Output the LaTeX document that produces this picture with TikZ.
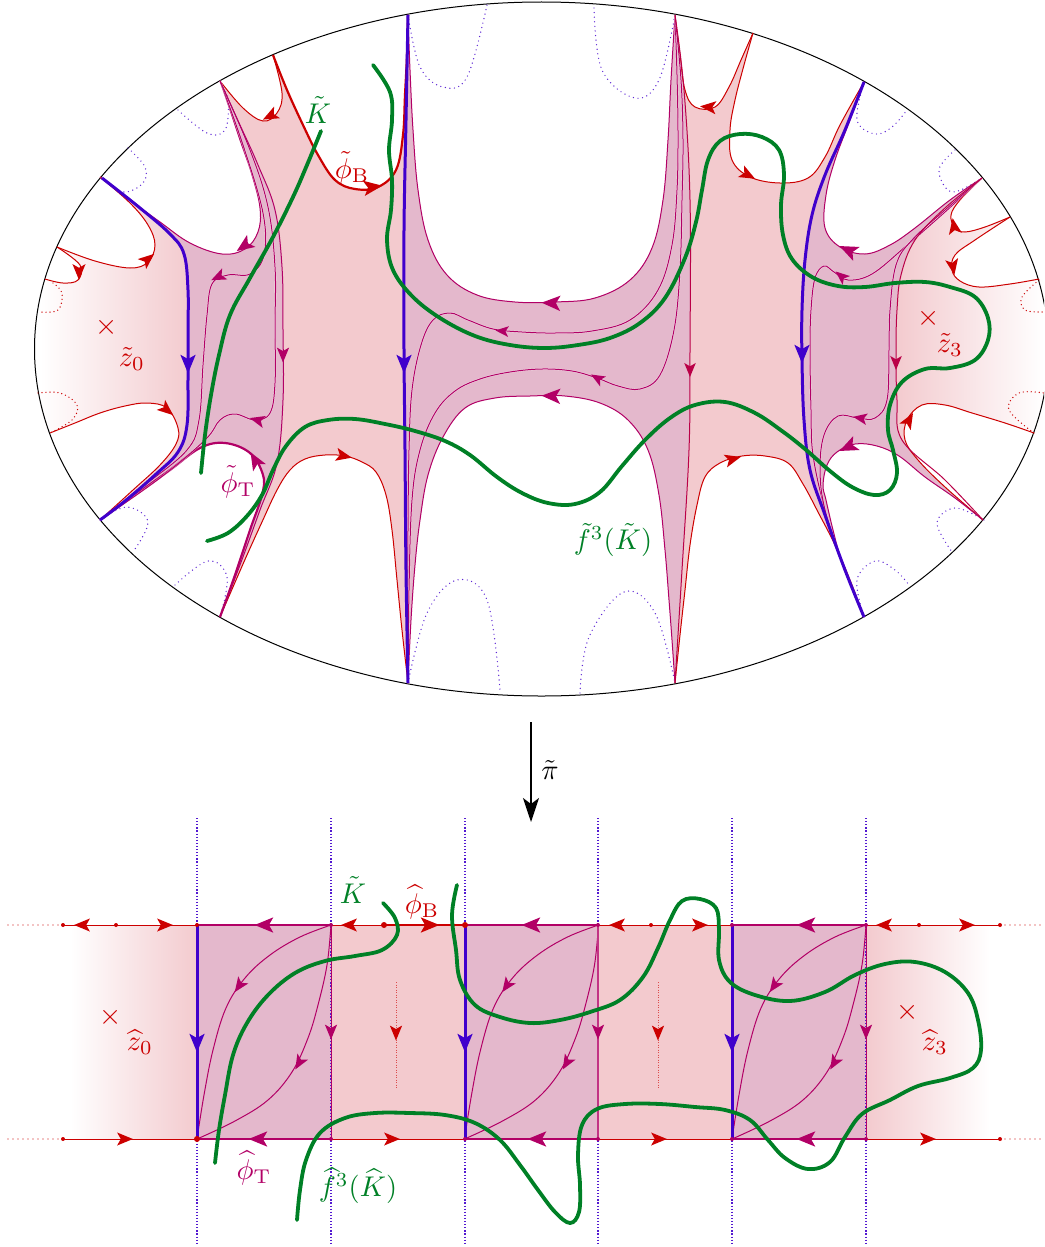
\documentclass[tikz,border=0pt]{standalone}
\usetikzlibrary{arrows.meta}
\definecolor{cred}{rgb}{0.8,0,0}
\definecolor{cmag}{rgb}{0.7,0,0.4}
\definecolor{cblue}{rgb}{0.25,0,0.8}
\definecolor{cgreen}{rgb}{0,0.5,0.15}
\definecolor{fpink}{HTML}{F3CACE}
\definecolor{fmag}{HTML}{E4B8CC}
\newcommand\cv[1]{plot[smooth,tension=.62] coordinates {#1}}
\newcommand\ah[5][1]{\fill[#5,shift={(#2,#3)},rotate=#4,scale=#1*1.1] (8.5,0)--(-8.5,7)--(-4.5,0)--(-8.5,-7)--cycle;}
% top boundary segments
\def\SA{\cv{(45,279)(63,283)(78,280)(80,265)(57,247)}}
\def\SB{\cv{(57,247)(95,261)(130,268)(148,262)(155,245)(148,225)(130,203)(100,177)}}
\def\SC{\cv{(100,177)(130,200)(160,222)(190,243)(222,254)(245,249)(258,232)(260,208)(252,175)(240,140)(230,110)(220,81)}}
\def\SD{\cv{(220,81)(243,108)(263,121)(277,113)(282,93)(273,55)}}
\def\SE{\cv{(273,55)(287,90)(303,125)(318,155)(335,180)(355,189)(378,187)(396,170)(403,135)(405,95)(407,55)(408,15)}}
\def\SF{\cv{(408,15)(410,70)(413,130)(418,190)(428,240)(447,275)(477,295)(515,302)(555,302)(595,298)(630,280)(652,248)(663,200)(668,140)(671,80)(675,15)}}
\def\SG{\cv{(675,15)(680,55)(685,90)(695,107)(715,107)(729,87)(741,60)(753,33)}}
\def\SH{\cv{(753,33)(744,65)(735,100)(730,130)(732,160)(750,177)(780,183)(808,178)(825,157)(840,125)(864,82)}}
\def\SI{\cv{(864,82)(850,120)(835,160)(826,195)(825,228)(840,247)(865,254)(890,245)(915,228)(950,200)(982,178)}}
\def\SJ{\cv{(982,178)(960,200)(951,215)(955,228)(965,232)(985,227)(1010,217)}}
\def\SK{\cv{(1010,217)(975,240)(955,255)(952,270)(960,281)(979,287)(1010,284)(1039,279)}}
\def\SL{\cv{(1034,433)(1005,423)(972,413)(945,405)(922,405)(907,420)(905,440)(918,460)(945,487)(983,520)}}
\def\SM{\cv{(983,520)(955,498)(925,477)(899,456)(877,446)(855,444)(837,452)(827,465)(823,485)(826,500)(833,530)(842,563)(853,590)(864,617)}}
\def\SN{\cv{(864,617)(850,580)(835,545)(818,512)(803,484)(788,463)(765,456)(742,456)(720,463)(705,477)(697,505)(690,545)(685,590)(680,635)(675,683)}}
\def\SO{\cv{(675,683)(672,640)(669,600)(665,550)(659,495)(648,450)(628,420)(600,403)(565,396)(530,396)(495,398)(465,408)(443,437)(428,475)(420,520)(415,565)(411,620)(408,683)}}
\def\SP{\cv{(408,683)(402,630)(397,580)(392,530)(386,495)(376,472)(362,462)(345,456)(325,455)(305,459)(290,470)(277,490)(262,522)(247,555)(233,587)(220,617)}}
\def\SQ{\cv{(220,617)(235,575)(250,530)(262,495)(263,475)(250,453)(225,443)(200,448)(170,470)(135,495)(100,520)}}
\def\SR{\cv{(100,520)(133,490)(160,465)(176,444)(178,428)(167,408)(147,403)(125,406)(100,413)(75,423)(50,433)}}
\def\BL{\cv{(102,178)(140,208)(170,234)(184,254)(188,290)(188,330)(188,380)(187,425)(178,452)(155,475)(125,501)(100,520)}}
\def\BM{\cv{(408,15)(406,120)(404,230)(404,350)(405,450)(406,570)(408,683)}}
\def\BR{\cv{(864,82)(845,130)(825,175)(812,215)(805,260)(802,310)(802,360)(804,420)(810,470)(825,515)(845,570)(864,617)}}
\def\EL{\cv{(220,617)(240,565)(260,510)(277,463)(283,400)(283,330)(282,267)(275,210)(258,165)(240,125)(220,81)}}
\def\EM{\cv{(675,683)(682,570)(689,450)(690,350)(690,200)(684,90)(675,15)}}
\def\ER{\cv{(983,520)(945,480)(902,440)(897,400)(896,350)(897,310)(901,275)(915,240)(945,208)(982,178)}}
\edef\regionpath{\SA -- \SB -- \SC -- \SD -- \SE -- \SF -- \SG -- \SH -- \SI -- \SJ -- \SK -- (1060,279) -- (1060,433) -- \SL -- \SM -- \SN -- \SO -- \SP -- \SQ -- \SR -- (25,433) -- (25,279) -- cycle}
\edef\stripL{\BL -- \EL -- cycle}
\edef\stripM{\BM -- \EM -- cycle}
\edef\stripR{\BR -- \ER -- cycle}
\tikzset{
  thinr/.style={cred,line width=1pt},
  thinm/.style={cmag,line width=1pt},
  boldr/.style={cred,line width=2.2pt},
  boldm/.style={cmag,line width=2.2pt},
  bluel/.style={cblue,line width=3pt},
  greenl/.style={cgreen,line width=3.8pt,line cap=round},
  dotb/.style={cblue!85,line width=1.4pt,line cap=round,dash pattern=on 0pt off 4.6pt},
  dotr/.style={cred,line width=1.4pt,line cap=round,dash pattern=on 0pt off 4pt},
  dotv/.style={cblue!90,line width=1.2pt,dash pattern=on 1.2pt off 1.9pt},
  lab/.style={transform shape,scale=2.85,inner sep=0pt},
  ptr/.style={circle,fill=cred,inner sep=0pt,minimum size=4pt},
  ptm/.style={circle,fill=cmag,inner sep=0pt,minimum size=4pt}
}
\begin{document}
\begin{tikzpicture}[x=1pt,y=-1pt]
\useasboundingbox (0,0) rectangle (1044,1247);
\clip (0,0) rectangle (1044,1247);
% ---------- top: fills
\begin{scope}
\clip \regionpath;
\shade[left color=white,right color=fpink] (40,0) rectangle (190,700);
\fill[fpink] (189,0) rectangle (896,700);
\shade[left color=fpink,right color=white] (895,0) rectangle (1044,700);
\fill[fmag] \stripL;
\fill[fmag] \stripM;
\fill[fmag] \stripR;
\end{scope}
\draw[black,line width=1pt] (541.5,349) ellipse [x radius=507pt,y radius=347pt];
% dotted arcs
\foreach \a in {{(128,148)(145,167)(143,183)(123,192)(101,178)},
 {(178,110)(207,133)(225,130)(228,100)(220,82)},
 {(408,15)(420,67)(443,87)(467,77)(487,5)},
 {(594,8)(602,70)(635,98)(659,80)(675,15)},
 {(864,82)(857,120)(875,134)(892,127)(907,110)},
 {(955,150)(939,170)(952,192)(982,178)},
 {(100,520)(127,507)(148,522)(133,552)},
 {(175,585)(208,561)(227,577)(220,617)},
 {(408,683)(427,613)(457,580)(487,600)(500,690)},
 {(580,693)(589,637)(624,592)(655,613)(675,683)},
 {(864,617)(857,580)(875,561)(895,570)(909,585)},
 {(984,520)(955,508)(937,523)(952,552)}}
 {\edef\tmpc{\cv{\a}}\draw[dotb] \tmpc;}
\foreach \a in {{(53,283)(62,293)(58,310)(40,312)},
 {(38,393)(60,393)(77,405)(72,420)(50,433)},
 {(1039,280)(1022,297)(1025,310)(1044,312)},
 {(1034,433)(1009,410)(1019,393)(1044,393)}}
 {\edef\tmpc{\cv{\a}}\draw[dotr] \tmpc;}
% thin boundary curves
\draw[thinr] \SA; \draw[thinr] \SB; \draw[thinm] \SC; \draw[thinr] \SD;
\draw[boldr] \SE; \draw[thinm] \SF; \draw[thinr] \SG; \draw[thinr] \SH;
\draw[thinm] \SI; \draw[thinr] \SJ; \draw[thinr] \SK; \draw[thinr] \SL;
\draw[thinm] \SM; \draw[thinr] \SN; \draw[thinm] \SO; \draw[thinr] \SP;
\draw[boldm] \SQ; \draw[thinr] \SR;
% interior curves
\foreach \a in {{(220,81)(243,145)(263,213)(264,255)(250,274)(228,275)(212,284)(207,315)(203,365)(199,420)(187,450)(145,485)(100,520)},
 {(220,81)(250,150)(268,207)(275,267)(275,325)(275,383)(270,413)(255,420)(235,414)(220,420)(205,440)(160,478)(100,520)},
 {(675,15)(677,75)(678,135)(677,190)(672,245)(658,290)(630,320)(592,331)(555,333)(522,332)(493,329)(468,320)(450,313)(433,320)(421,345)(412,390)(409,450)(408,530)(408,610)(408,683)},
 {(675,15)(681,80)(683,140)(682,200)(680,270)(674,330)(660,375)(640,389)(618,386)(597,378)(572,371)(542,369)(510,372)(480,379)(455,391)(435,413)(420,450)(412,500)(409,590)(408,683)},
 {(982,178)(945,212)(905,247)(872,274)(848,280)(834,272)(824,266)(815,278)(811,310)(810,350)(811,410)(813,455)(825,510)(843,565)(864,617)},
 {(982,178)(945,210)(912,240)(896,265)(890,310)(889,350)(887,400)(875,418)(858,418)(838,416)(824,435)(820,470)(825,510)(843,565)(864,617)}}
 {\edef\tmpc{\cv{\a}}\draw[thinm,preaction={draw=white,line width=1.7pt,opacity=.6}] \tmpc;}
\draw[thinm] \EL; \draw[thinm,cmag!70!cred] \EM; \draw[thinm,cmag!70!cred] \ER;
% blue
\draw[bluel] \BL; \draw[bluel] \BM; \draw[bluel] \BR;
% arrowheads top
\ah[.85]{79}{272}{-90}{cred}
\ah[.85]{148}{259}{40}{cred}
\ah[.85]{270}{116}{207}{cred}
\ah[1]{373}{187}{8}{cred}
\ah[.85]{708}{107}{175}{cred}
\ah[.85]{748}{175}{-28}{cred}
\ah[.85]{954}{226}{100}{cred}
\ah[.85]{953}{267}{-80}{cred}
\ah[.85]{167}{410}{-40}{cred}
\ah[.85]{344}{456}{-12}{cred}
\ah[.85]{733}{459}{15}{cred}
\ah[.85]{909}{420}{60}{cred}
\ah[.95]{244}{246}{215}{cmag}
\ah[.8]{218}{277}{205}{cmag}
\ah[.8]{283}{355}{-90}{cmag}
\ah[.95]{255}{460}{120}{cmag}
\ah[.8]{257}{420}{165}{cmag}
\ah[1]{551}{303}{178}{cmag}
\ah[.7]{502}{331}{175}{cmag}
\ah[.75]{597}{378}{150}{cmag}
\ah[1]{551}{396}{178}{cmag}
\ah[.75]{690}{370}{-90}{cmag!70!cred}
\ah[1]{848}{250}{155}{cmag}
\ah[.75]{841}{276}{140}{cmag}
\ah[.75]{896}{363}{-90}{cmag!70!cred}
\ah[.75]{860}{418}{170}{cmag}
\ah[1]{848}{447}{205}{cmag}
\ah[1]{188}{364}{-90}{cblue}
\ah[1]{404}{364}{-90}{cblue}
\ah[1]{802}{354}{-90}{cblue}
% green top
\draw[greenl] \cv{(321,131)(307,165)(293,197)(273,237)(250,278)(230,315)(219,355)(211,395)(205,435)(201,473)};
\draw[greenl] \cv{(207,541)(228,533)(247,516)(262,495)(273,470)(286,446)(305,427)(328,420)(355,419)(385,424)(415,431)(445,441)(470,455)(497,477)(522,493)(548,503)(575,504)(600,492)(622,466)(645,440)(670,418)(695,405)(725,402)(755,413)(782,431)(805,449)(830,471)(852,487)(874,495)(890,490)(897,473)(893,450)(888,430)(890,405)(902,382)(925,369)(950,368)(975,360)(988,340)(988,318)(975,297)(950,287)(925,282)(895,283)(865,287)(838,286)(812,277)(792,259)(783,235)(781,205)(784,175)(779,150)(762,137)(740,134)(720,141)(708,160)(702,190)(696,222)(685,258)(665,298)(640,323)(610,338)(578,345)(545,348)(510,345)(475,336)(440,318)(412,296)(393,270)(387,240)(391,210)(392,180)(389,150)(392,120)(390,92)(373,65)};
% labels top
\node[lab,text=cgreen] (lk) at (318,110) {$\tilde K$};
\node[lab,text=cred] (lpb) at (352,168) {$\tilde\phi_{\mathrm{B}}$};
\node[lab,text=cred] (lx0) at (107,327) {$\times$};
\node[lab,text=cred] (lz0) at (132,359) {$\tilde z_0$};
\node[lab,text=cred] (lx3) at (929,318) {$\times$};
\node[lab,text=cred] (lz3) at (950,345) {$\tilde z_3$};
\node[lab,text=cmag] (lpt) at (238,482) {$\tilde\phi_{\mathrm{T}}$};
\node[lab,text=cgreen] (lfk) at (613,540) {$\tilde f^3(\tilde K)$};
% projection arrow
\coordinate (pa) at (531,722); \coordinate (pb) at (531,822);
\draw[black,line width=1.6pt,-{Stealth[length=24pt,width=16pt,inset=6pt]}] (pa) -- (pb);
\node[lab] (lpi) at (550,770) {$\tilde\pi$};
% ---------- bottom: fills
\shade[left color=white,right color=fpink] (70,925) rectangle (197.5,1139);
\fill[fpink] (197,925) rectangle (866,1139);
\shade[left color=fpink,right color=white] (865.5,925) rectangle (990,1139);
\fill[fmag] (197,925) rectangle (331,1139);
\fill[fmag] (465,925) rectangle (598,1139);
\fill[fmag] (732,925) rectangle (866,1139);
% vertical dotted
\foreach \x in {197,331,465,598,732,866} {\draw[dotv] (\x,818) -- (\x,1245);}
% horizontals
\draw[dotr,dash pattern=on 0pt off 5pt] (63,925) -- (8,925);
\draw[dotr,dash pattern=on 0pt off 5pt] (63,1139) -- (8,1139);
\draw[dotr,dash pattern=on 0pt off 5pt] (1000,925) -- (1044,925);
\draw[dotr,dash pattern=on 0pt off 5pt] (1000,1139) -- (1044,1139);
\draw[thinr] (63,925) -- (197,925);
\draw[thinr] (63,1139) -- (197,1139);
\draw[thinr] (331,925) -- (465,925);
\draw[boldr] (384,925) -- (465,925);
\draw[thinr] (598,925) -- (732,925);
\draw[thinr] (866,925) -- (1000,925);
\draw[thinr] (331,1139) -- (465,1139);
\draw[thinr] (598,1139) -- (732,1139);
\draw[thinr] (866,1139) -- (1000,1139);
\draw[cmag,line width=1.2pt] (197,925) -- (331,925) (465,925) -- (598,925) (732,925) -- (866,925);
\draw[cmag,line width=1.2pt] (465,1139) -- (598,1139) (732,1139) -- (866,1139);
\draw[boldm] (197,1139) -- (331,1139);
% interior of strips
\foreach \dx in {0,267.5,535} {
 \begin{scope}[xshift=\dx pt]
 \draw[thinm] \cv{(331,925)(300,937)(270,955)(245,978)(226,1008)(213,1050)(204,1095)(197,1139)};
 \draw[thinm] \cv{(331,925)(327,965)(318,1005)(308,1038)(292,1072)(268,1100)(235,1121)(197,1139)};
 \ah[.8]{239}{986}{235}{cmag}
 \ah[.8]{299}{1063}{240}{cmag}
 \end{scope}
}
\draw[thinm] (331,925) -- (331,1139);
\draw[thinm,cmag!80,line width=1.5pt] (598,925) -- (598,1139);
\draw[thinm] (866,925) -- (866,1139);
\draw[bluel] (197,925) -- (197,1139);
\draw[bluel] (465,925) -- (465,1139);
\draw[bluel] (732,925) -- (732,1139);
% red dotted in the pink bands
\draw[dotr,line width=.9pt,line cap=butt,dash pattern=on .9pt off 1.6pt,cred!70] (396,982) -- (396,1089);
\draw[dotr,line width=.9pt,line cap=butt,dash pattern=on .9pt off 1.6pt,cred!70] (658,982) -- (658,1089);
\ah[.8]{396}{1033}{-90}{cred}
\ah[.8]{658}{1033}{-90}{cred}
% dots
\foreach \p in {(63,925),(116,925),(63,1139),(919,925),(1000,925),(1000,1139),(651,925),(197,925),(465,925)} {\node[ptr] at \p {};}
\node[ptr,minimum size=6pt] at (384,925) {};
\node[ptr,minimum size=6pt] at (197,1139) {};
\node[ptr,minimum size=6pt] at (465,925) {};
\foreach \p in {(331,925),(598,925),(331,1139),(598,1139),(465,1139),(732,1139),(732,925),(866,925),(866,1139)} {\node[ptm] at \p {};}
% arrows bottom
\ah[.85]{82}{925}{180}{cred}
\ah[.85]{165}{925}{0}{cred}
\ah[1]{264}{925}{180}{cmag}
\ah[.85]{349}{925}{180}{cred}
\ah[1]{430}{925}{0}{cred}
\ah[1]{531}{925}{180}{cmag}
\ah[.85]{617}{925}{180}{cred}
\ah[.85]{700}{925}{0}{cred}
\ah[1]{806}{925}{180}{cmag}
\ah[.85]{884}{925}{180}{cred}
\ah[.85]{967}{925}{0}{cred}
\ah[.85]{125}{1139}{0}{cred}
\ah[1]{258}{1139}{180}{cmag}
\ah[.85]{392}{1139}{0}{cred}
\ah[1]{537}{1139}{180}{cmag}
\ah[.85]{659}{1139}{0}{cred}
\ah[1]{806}{1139}{180}{cmag}
\ah[.85]{928}{1139}{0}{cred}
\ah[1]{197}{1043}{-90}{cblue}
\ah[1]{465}{1043}{-90}{cblue}
\ah[1]{732}{1043}{-90}{cblue}
\ah[.8]{331}{1032}{-90}{cmag}
\ah[.8]{598}{1032}{-90}{cmag}
\ah[.8]{866}{1032}{-90}{cmag}
% green bottom
\draw[greenl] \cv{(215,1163)(219,1130)(225,1095)(233,1055)(247,1023)(268,995)(295,973)(325,961)(355,956)(382,950)(397,935)(395,918)(383,903)};
\draw[greenl] \cv{(297,1220)(300,1190)(306,1160)(320,1133)(345,1118)(375,1113)(410,1113)(445,1115)(475,1123)(500,1140)(520,1165)(538,1190)(555,1212)(570,1223)(579,1212)(580,1185)(578,1155)(582,1125)(597,1109)(625,1104)(660,1104)(695,1107)(725,1110)(750,1120)(768,1140)(785,1158)(808,1169)(830,1162)(845,1137)(862,1114)(890,1100)(918,1086)(950,1078)(973,1068)(981,1050)(978,1020)(968,993)(945,972)(915,962)(885,964)(855,975)(825,992)(790,1001)(755,995)(730,982)(719,960)(719,930)(716,908)(700,899)(682,901)(670,920)(658,948)(643,977)(620,1000)(590,1012)(560,1020)(530,1023)(500,1017)(475,1005)(460,980)(456,950)(452,915)(457,885)};
% labels bottom
\node[lab,text=cgreen] (blk) at (353,890) {$\tilde K$};
\node[lab,text=cred] (blpb) at (422,902) {$\widehat\phi_{\mathrm{B}}$};
\node[lab,text=cred] (blx0) at (111,1017) {$\times$};
\node[lab,text=cred] (blz0) at (140,1042) {$\widehat z_0$};
\node[lab,text=cred] (blx3) at (908,1012) {$\times$};
\node[lab,text=cred] (blz3) at (935,1042) {$\widehat z_3$};
\node[lab,text=cmag] (blpt) at (254,1168) {$\widehat\phi_{\mathrm{T}}$};
\node[lab,text=cgreen] (blfk) at (358,1186) {$\widehat f^3(\widehat K)$};
\end{tikzpicture}
\end{document}
